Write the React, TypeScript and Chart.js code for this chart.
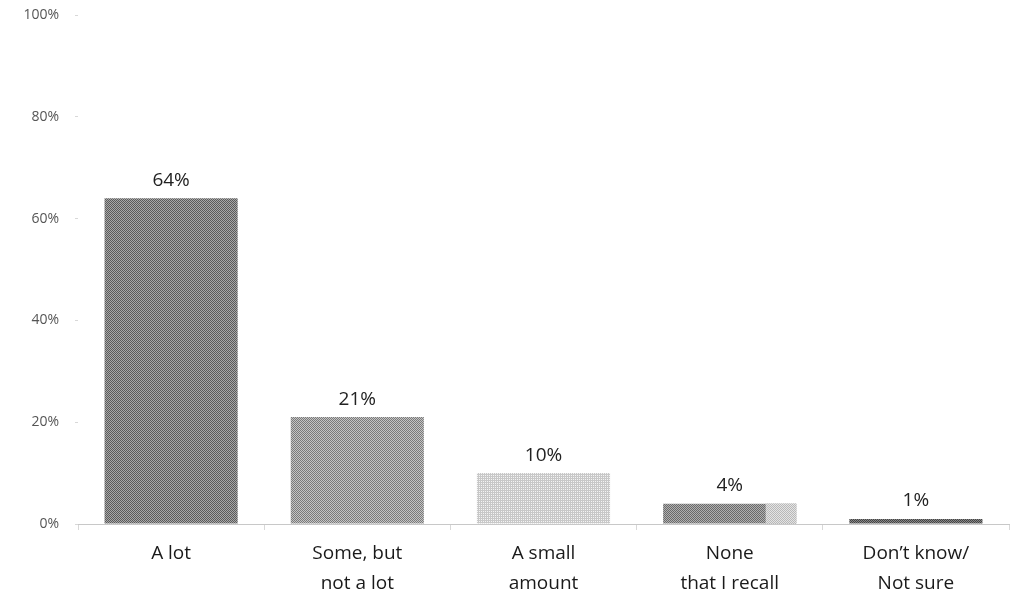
import React, { useEffect, useRef } from "react";
import { Chart, registerables } from "chart.js";

Chart.register(...registerables);

const categories: string[][] = [
  ["A lot"],
  ["Some, but", "not a lot"],
  ["A small", "amount"],
  ["None", "that I recall"],
  ["Don\u2019t know/", "Not sure"],
];
const values: number[] = [64, 21, 10, 4, 1];
const yTicks: number[] = [0, 20, 40, 60, 80, 100];

function makePattern(dark: string, light: string, mode: "checker" | "grid"): CanvasPattern | string {
  const c = document.createElement("canvas");
  c.width = 2;
  c.height = 2;
  const ctx = c.getContext("2d");
  if (!ctx) return dark;
  ctx.fillStyle = light;
  ctx.fillRect(0, 0, 2, 2);
  ctx.fillStyle = dark;
  if (mode === "checker") {
    ctx.fillRect(0, 0, 1, 1);
    ctx.fillRect(1, 1, 1, 1);
  } else {
    ctx.fillRect(0, 0, 2, 1);
    ctx.fillRect(0, 0, 1, 2);
  }
  const p = ctx.createPattern(c, "repeat");
  return p || dark;
}

const labelPlugin = {
  id: "valueLabels",
  afterDatasetsDraw(chart: any) {
    const ctx = chart.ctx;
    const meta = chart.getDatasetMeta(0);
    ctx.save();
    // lighter tail on the 4th bar
    const el4 = meta.data[3];
    if (el4) {
      const w = el4.width;
      const left = el4.x - w / 2;
      const tailStart = left + w * 0.77;
      ctx.fillStyle = makePattern("#b8b8b8", "#e4e4e4", "checker");
      ctx.fillRect(tailStart, el4.y, left + w - tailStart, el4.base - el4.y);
    }
    ctx.font = '19px "Open Sans", sans-serif';
    ctx.fillStyle = "#222";
    ctx.textAlign = "center";
    ctx.textBaseline = "middle";
    meta.data.forEach((el: any, i: number) => {
      ctx.fillText(values[i] + "%", el.x, el.y - 18);
    });
    ctx.restore();
  },
};

export default function App() {
  const ref = useRef<HTMLCanvasElement | null>(null);
  useEffect(() => {
    document.body.style.margin = "0";
    if (!ref.current) return;
    const colors = [
      makePattern("#5a5a5a", "#a8a8a8", "checker"),
      makePattern("#7a7a7a", "#c4c4c4", "checker"),
      makePattern("#c8c8c8", "#f4f4f4", "grid"),
      makePattern("#6a6a6a", "#b0b0b0", "checker"),
      makePattern("#444444", "#888888", "checker"),
    ];
    const chart = new Chart(ref.current, {
      type: "bar",
      data: {
        labels: categories,
        datasets: [
          {
            data: values,
            backgroundColor: colors as any,
            borderWidth: 0,
            categoryPercentage: 1,
            barPercentage: 0.715,
          },
        ],
      },
      options: {
        animation: false,
        responsive: true,
        maintainAspectRatio: false,
        layout: { padding: { top: 15, right: 6, left: 0, bottom: 0 } },
        plugins: { legend: { display: false }, tooltip: { enabled: false } },
        scales: {
          x: {
            offset: true,
            grid: {
              display: true,
              drawOnChartArea: false,
              drawTicks: true,
              tickLength: 6,
              color: "#d8d8d8",
            },
            border: { display: true, color: "#c8c8c8", dash: [1, 1] },
            ticks: {
              color: "#1a1a1a",
              font: { family: '"Open Sans", sans-serif', size: 19, lineHeight: 1.6 },
              padding: 8,
              maxRotation: 0,
            },
            afterFit: (scale: any) => {
              scale.height = 80;
            },
          },
          y: {
            min: 0,
            max: 100,
            afterBuildTicks: (scale: any) => {
              scale.ticks = yTicks.map((v) => ({ value: v }));
            },
            grid: {
              display: true,
              drawOnChartArea: false,
              drawTicks: true,
              tickLength: 3,
              color: "#d8d8d8",
            },
            border: { display: false },
            ticks: {
              color: "#555",
              font: { family: '"Open Sans", sans-serif', size: 14 },
              padding: 16,
              callback: (v: any) => v + "%",
            },
            afterFit: (scale: any) => {
              scale.width = 78;
              scale.paddingTop = 0;
              scale.paddingBottom = 0;
            },
          },
        },
      },
      plugins: [labelPlugin],
    });
    return () => chart.destroy();
  }, []);
  return (
    <div style={{ width: "1015px", height: "604px", position: "relative" }}>
      <canvas ref={ref} />
    </div>
  );
}
